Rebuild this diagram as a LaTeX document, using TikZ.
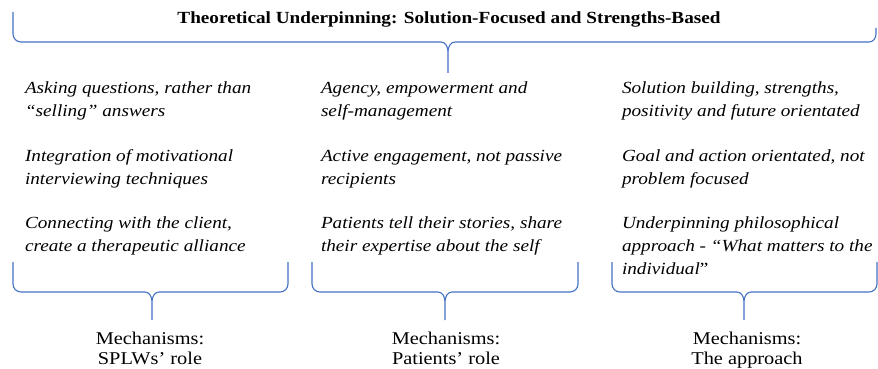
\documentclass[tikz,border=0pt]{standalone}
\usepackage{fontspec}
\setmainfont{Liberation Serif}[FakeStretch=1.13]
\usepackage{xcolor}
\usepackage{tikz}
\definecolor{braceblue}{RGB}{68,114,196}

\begin{document}
\begin{tikzpicture}[
      x=1pt, y=-1pt,
      every node/.style={inner sep=0pt, outer sep=0pt},
      head/.style={font=\fontsize{17}{21}\selectfont\bfseries, anchor=base},
      item/.style={font=\fontsize{17}{23}\selectfont\itshape, align=left, anchor=north west},
      mech/.style={font=\fontsize{18}{20.5}\selectfont, align=center, anchor=north},
      brace/.style={draw=braceblue, line width=1.1pt}
  ]
  \useasboundingbox (0,0) rectangle (878,369);

  % Title ------------------------------------------------
  \node[head] (title) at (449,24) {Theoretical Underpinning: Solution-Focused and Strengths-Based};

  % Column items ------------------------------------------------
  \node[item] (splwA) at (25,82)  {Asking questions, rather than\\ ``selling'' answers};
  \node[item] (splwB) at (25,150) {Integration of motivational\\ interviewing techniques};
  \node[item] (splwC) at (25,217) {Connecting with the client,\\ create a therapeutic alliance};

  \node[item] (patA) at (321,82)  {Agency, empowerment and\\ self-management};
  \node[item] (patB) at (321,150) {Active engagement, not passive\\ recipients};
  \node[item] (patC) at (321,217) {Patients tell their stories, share\\ their expertise about the self};

  \node[item] (apprA) at (622,82)  {Solution building, strengths,\\ positivity and future orientated};
  \node[item] (apprB) at (622,150) {Goal and action orientated, not\\ problem focused};
  \node[item] (apprC) at (622,217) {Underpinning philosophical\\ approach - ``\textit{What matters to the}\\ \textit{individual}\upshape''};

  % Mechanisms ------------------------------------------------
  \node[mech] (splwmech) at (150,332) {Mechanisms:\\ SPLWs' role};
  \node[mech] (patmech)  at (446,332) {Mechanisms:\\ Patients' role};
  \node[mech] (apprmech) at (747,332) {Mechanisms:\\ The approach};

  % Braces ------------------------------------------------
  \draw[brace] (13,12) -- (13,34) to[out=-90,in=180] (21,42) -- (441,42) to[out=0,in=90] (448,52) -- (448,73)
               (448,52) to[out=90,in=180] (455,42) -- (869,42) to[out=0,in=-90] (876,34) -- (876,28);
  \draw[brace] (13,262) -- (13,284) to[out=-90,in=180] (21,292) -- (145,292) to[out=0,in=90] (152,302) -- (152,320)
               (152,302) to[out=90,in=180] (159,292) -- (280,292) to[out=0,in=-90] (288,284) -- (288,262);
  \draw[brace] (312,262) -- (312,284) to[out=-90,in=180] (320,292) -- (438,292) to[out=0,in=90] (445,302) -- (445,320)
               (445,302) to[out=90,in=180] (452,292) -- (570,292) to[out=0,in=-90] (578,284) -- (578,262);
  \draw[brace] (612,262) -- (612,284) to[out=-90,in=180] (620,292) -- (737,292) to[out=0,in=90] (744,302) -- (744,320)
               (744,302) to[out=90,in=180] (751,292) -- (869,292) to[out=0,in=-90] (877,284) -- (877,262);
\end{tikzpicture}
\end{document}
